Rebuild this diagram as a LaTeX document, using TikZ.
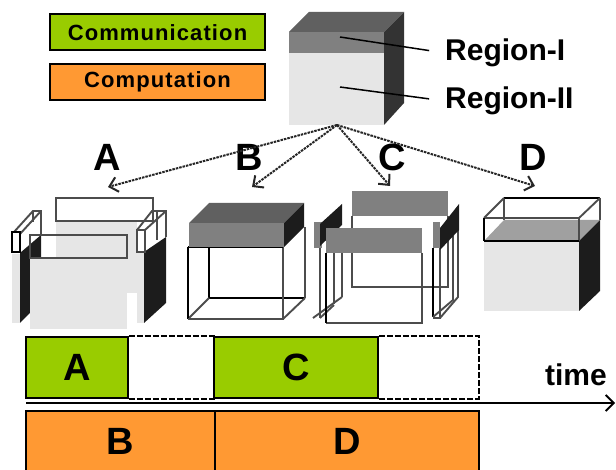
\documentclass[tikz,border=0pt]{standalone}
\usepackage{fontspec}
\setmainfont{Liberation Sans}
\usetikzlibrary{arrows.meta}
\tikzset{
	wire/.style={draw=black!70, line width=1.9pt},
	wireblack/.style={draw=black, line width=1.9pt},
	slot/.style={draw=black, line width=2pt, inner sep=0pt, minimum height=36pt, minimum width=215pt, font=\fontsize{22}{22}\selectfont\bfseries\addfontfeature{LetterSpace=5}},
	bar/.style={draw=black, line width=1.5pt, inner sep=0pt, font=\fontsize{38}{38}\selectfont\bfseries},
	letter/.style={font=\fontsize{38}{38}\selectfont\bfseries, inner sep=0pt},
	region/.style={font=\fontsize{30}{30}\selectfont\bfseries, inner sep=0pt, anchor=west},
	pick/.style={-{Straight Barb[length=8pt,width=15pt,line width=2pt]}, dash pattern=on 2.5pt off 1pt, line width=2pt, draw=black!85},
	gapline/.style={dash pattern=on 6pt off 2pt, line width=1.5pt}
}
\definecolor{comm}{HTML}{99CC00}
\definecolor{comp}{HTML}{FF9933}
\definecolor{paleside}{HTML}{E6E6E6}
\definecolor{midtop}{HTML}{808080}
\definecolor{darktop}{HTML}{606060}
\definecolor{darkside}{HTML}{1C1C1C}
\definecolor{cuttop}{HTML}{A0A0A0}
\begin{document}
\begin{tikzpicture}[x=1pt, y=-1pt]
\useasboundingbox (0,0) rectangle (616,470);

% legend
\node[slot, fill=comm] (comm) at (157.5,32.5) {Communication};
\node[slot, fill=comp] (comp) at (157.5,82) {Computation};

% whole block
\fill[paleside] (289,53) rectangle (384,125);
\fill[midtop] (289,32) rectangle (384,53);
\fill[darktop] (289,32) -- (309,12) -- (404,12) -- (384,32) -- cycle;
\fill[darkside!90!white] (384,32) -- (404,12) -- (404,103) -- (384,125) -- cycle;
\coordinate (spot1) at (340,37);
\coordinate (spot2) at (340,87);
\coordinate (top) at (337,125);
\node[region] (reg1) at (445,53) {Region-I};
\node[region] (reg2) at (445,101) {Region-II};
\draw[line width=1.5pt, shorten >=16pt] (spot1) -- (reg1.west);
\draw[line width=1.5pt, shorten >=16pt] (spot2) -- (reg2.west);

% letters above the split blocks
\node[letter] (la) at (107,157) {A};
\node[letter] (lb) at (249,157) {B};
\node[letter] (lc) at (392,157) {C};
\node[letter] (ld) at (533,157) {D};
\coordinate (ca) at (108,187);
\coordinate (cb) at (252,187);
\coordinate (cc) at (390,186);
\coordinate (cd) at (535,186);
\draw[pick] (top) -- (ca);
\draw[pick] (top) -- (cb);
\draw[pick] (top) -- (cc);
\draw[pick] (top) -- (cd);

% block A
\fill[paleside] (56,221) rectangle (137,293);
\draw[wire] (56,198) rectangle (153,221);
\fill[paleside] (12,254) rectangle (20,323);
\fill[darkside] (20,323) -- (20,253) -- (41,235) -- (41,258) -- (30,258) -- (30,313) -- cycle;
\draw[wire] (14,232) -- (33,211) -- (41,211) -- (41,235);
\draw[wire] (20,234) -- (41,211);
\draw[wire] (33,211) -- (33,222);
\draw[wireblack] (12,232) rectangle (20,252);
\fill[paleside] (137,252) rectangle (144,323);
\fill[darkside] (144,323) -- (144,252) -- (166,237) -- (166,303) -- cycle;
\draw[wire] (137,230) -- (152,211) -- (166,211) -- (166,237);
\draw[wire] (145,230) -- (166,211);
\draw[wire] (157,211) -- (157,240);
\draw[wire] (137,230) rectangle (145,252);
\fill[paleside] (30,258) rectangle (127,329);
\draw[wire] (30,235) rectangle (127,258);

% block B
\draw[wireblack] (209,247) -- (209,298) -- (305,298);
\draw[wire] (305,298) -- (305,227);
\draw[wire] (188,319) -- (209,298);
\draw[wire] (305,298) -- (283,319);
\draw[wireblack] (188,247) -- (188,319);
\draw[wire] (188,319) -- (283,319) -- (283,247);
\draw[wireblack] (188,247) -- (283,247);
\fill[midtop] (189,223) rectangle (284,247);
\fill[darktop] (189,223) -- (209,203) -- (304,203) -- (284,223) -- cycle;
\fill[darkside] (284,223) -- (304,203) -- (304,227) -- (284,247) -- cycle;

% block C
\draw[wire] (352,216) -- (352,287) -- (448,287) -- (448,216);
\fill[midtop] (352,191) rectangle (448,216);
\draw[wire] (320,248) -- (320,318) (334,252) -- (334,304) (342,252) -- (342,297);
\draw[wire] (313,318) -- (342,297);
\draw[wire] (320,318) -- (334,305);
\fill[midtop] (314,222) rectangle (322,248);
\fill[darkside] (320,224) -- (342,204) -- (342,225) -- (320,246) -- cycle;
\draw[wireblack] (433,248) -- (433,317);
\draw[wire] (440,248) -- (440,318) -- (433,318);
\draw[wire] (458,228) -- (458,297) -- (440,318);
\draw[wire] (453,236) -- (453,300) -- (433,317);
\fill[midtop] (433,222) rectangle (440,248);
\fill[darkside] (440,228) -- (459,204) -- (459,230) -- (440,250) -- cycle;
\draw[wire] (422,253) -- (422,323) -- (326,323);
\draw[wireblack] (326,253) -- (326,323);
\fill[midtop] (326,228) rectangle (422,253);

% block D
\draw[wire] (504,198) -- (504,220) (600,198) -- (600,220);
\draw[wireblack] (504,198) -- (600,198);
\draw[wire] (484,218) -- (504,198) (579,218) -- (600,198);
\fill[cuttop] (484,241) -- (504,220) -- (600,220) -- (579,241) -- cycle;
\fill[paleside] (484,241) rectangle (579,311);
\fill[darkside] (579,241) -- (600,220) -- (600,291) -- (579,311) -- cycle;
\draw[wire] (484,218) -- (579,218) -- (579,241);
\draw[wireblack] (484,241) -- (484,218) (484,241) -- (579,241);

% timeline
\node[bar, fill=comm, minimum width=102pt, minimum height=61pt] (barA) at (77,367.5) {A};
\node[bar, draw=none, minimum width=86pt, minimum height=61pt] (gap1) at (171,367.5) {};
\node[bar, fill=comm, minimum width=164pt, minimum height=61pt] (barC) at (296,367.5) {C};
\node[bar, draw=none, minimum width=100pt, minimum height=61pt] (gap2) at (428,367.5) {};
\draw[gapline] (barA.north east) -- (gap1.north east);
\draw[gapline] (barA.south east) -- (gap1.south east);
\draw[gapline] (barC.north east) -- (gap2.north east) -- (gap2.south east) -- (barC.south east);
\node[bar, fill=comp, minimum width=189pt, minimum height=60pt] (barB) at (120.5,441) {B};
\node[bar, fill=comp, minimum width=264pt, minimum height=60pt] (barD) at (347,441) {D};
\node[font=\fontsize{30}{30}\selectfont\bfseries, inner sep=0pt] (time) at (576,375) {time};
\coordinate (t0) at (26,403);
\coordinate (t1) at (615,403);
\draw[-{Straight Barb[length=8pt,width=16pt,line width=1.8pt]}, line width=1.8pt] (t0) -- (t1);
\end{tikzpicture}
\end{document}
